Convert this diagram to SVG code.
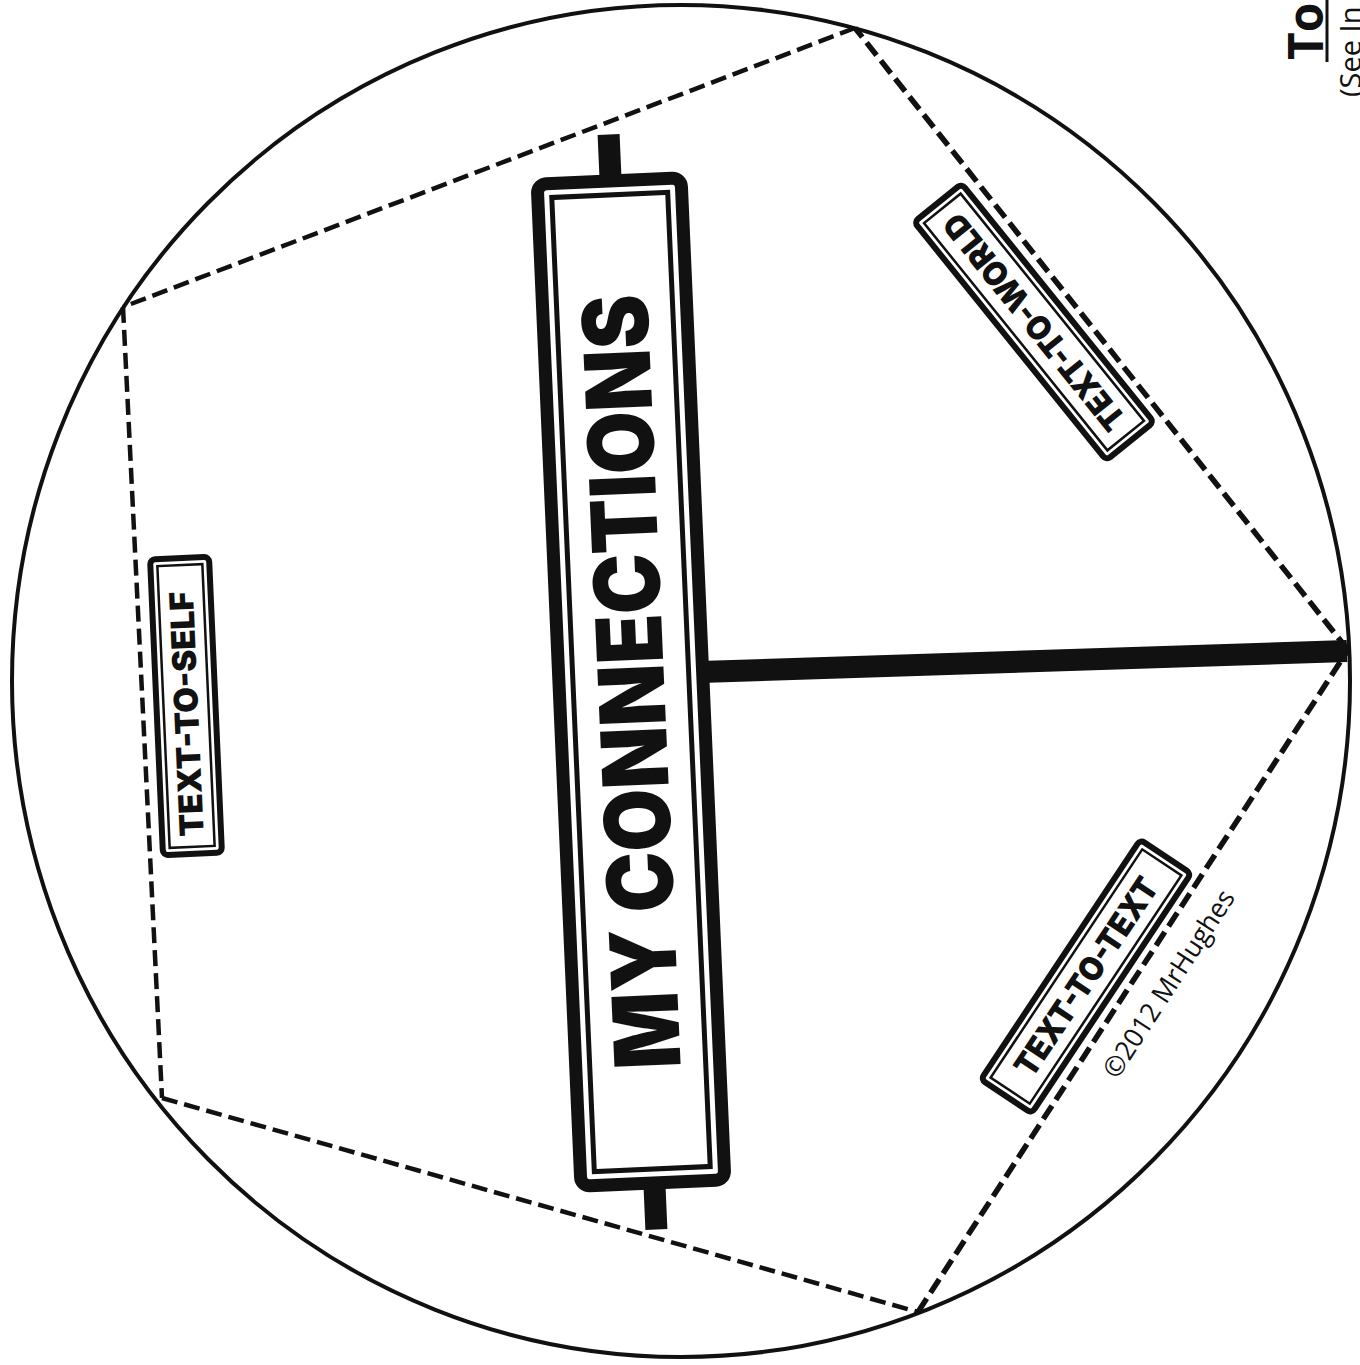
<svg xmlns="http://www.w3.org/2000/svg" width="1360" height="1365" viewBox="0 0 1360 1365">
  <style>
    .dash { fill: none; stroke: #111; stroke-width: 4.5; stroke-dasharray: 16 7; }
    .dash.heavy { stroke-width: 5.5; }
    .frame { fill: #fff; stroke: #111; }
    .inner { fill: none; stroke: #111; }
    .lbl { font-family: Inter, "DejaVu Sans", sans-serif; font-weight: 900; fill: #111; }
    .hand { font-family: "Open Sans", "Liberation Sans", sans-serif; fill: #111; }
  </style>
  <rect width="1360" height="1365" fill="#fff"/>
  <g id="outline">
    <ellipse cx="681" cy="681" rx="669" ry="676" fill="none" stroke="#111" stroke-width="4"/>
  </g>
  <g id="connectors">
    <path class="dash" d="M855,28 L123,307"/>
    <path class="dash" d="M123,307 L162,1098"/>
    <path class="dash" d="M162,1098 L918,1312"/>
    <path class="dash heavy" d="M918,1312 L1348,650"/>
    <path class="dash heavy" d="M1348,650 L855,28"/>
    <line x1="700" y1="672" x2="1347" y2="651" stroke="#111" stroke-width="22"/>
  </g>
  <g id="banner" transform="translate(631,682) rotate(-2.5)">
    <rect x="-9.5" y="-548" width="22" height="50" fill="#111"/>
    <rect x="-9.5" y="498" width="22" height="50" fill="#111"/>
    <rect class="frame" x="-72" y="-501.5" width="144" height="1003" rx="9" stroke-width="13"/>
    <rect class="inner" x="-58" y="-487.5" width="116" height="975" stroke-width="5"/>
    <text class="lbl" transform="rotate(-90)" x="0" y="33" font-size="91" text-anchor="middle" textLength="775" lengthAdjust="spacingAndGlyphs">MY CONNECTIONS</text>
  </g>
  <g id="text-to-self" transform="translate(186,706) rotate(-2.5)">
    <rect class="frame" x="-29.5" y="-148" width="59" height="296" rx="5" stroke-width="6"/>
    <rect class="inner" x="-22.5" y="-141" width="45" height="282" stroke-width="2.5"/>
    <text class="lbl" transform="rotate(-90)" x="-8" y="12" font-size="33" text-anchor="middle" textLength="245" lengthAdjust="spacingAndGlyphs">TEXT-TO-SELF</text>
  </g>
  <g id="text-to-world" transform="translate(1034,322) rotate(51.1)">
    <rect class="frame" x="-153" y="-30.5" width="306" height="61" rx="5" stroke-width="6"/>
    <rect class="inner" x="-146" y="-23.5" width="292" height="47" stroke-width="2.5"/>
    <text class="lbl" transform="rotate(180)" x="0" y="12" font-size="33" text-anchor="middle" textLength="268" lengthAdjust="spacingAndGlyphs">TEXT-TO-WORLD</text>
  </g>
  <g id="text-to-text" transform="translate(1086,976.5) rotate(-56.4)">
    <rect class="frame" x="-144" y="-30.5" width="288" height="61" rx="5" stroke-width="6"/>
    <rect class="inner" x="-137" y="-23.5" width="274" height="47" stroke-width="2.5"/>
    <text class="lbl" x="0" y="12" font-size="33" text-anchor="middle" textLength="231" lengthAdjust="spacingAndGlyphs">TEXT-TO-TEXT</text>
  </g>
  <g id="copyright" transform="translate(1169,984) rotate(-57)">
    <text class="hand" x="0" y="9" font-size="27" text-anchor="middle" textLength="218" lengthAdjust="spacingAndGlyphs">©2012 MrHughes</text>
  </g>
  <g id="corner-note">
    <text class="hand" transform="translate(1323,60) rotate(-90)" x="0" y="0" font-size="48" font-weight="bold">To</text>
    <line x1="1327" y1="0" x2="1327" y2="62" stroke="#111" stroke-width="3"/>
    <text class="hand" transform="translate(1361,97) rotate(-90)" x="0" y="0" font-size="29">(See In</text>
  </g>
</svg>
